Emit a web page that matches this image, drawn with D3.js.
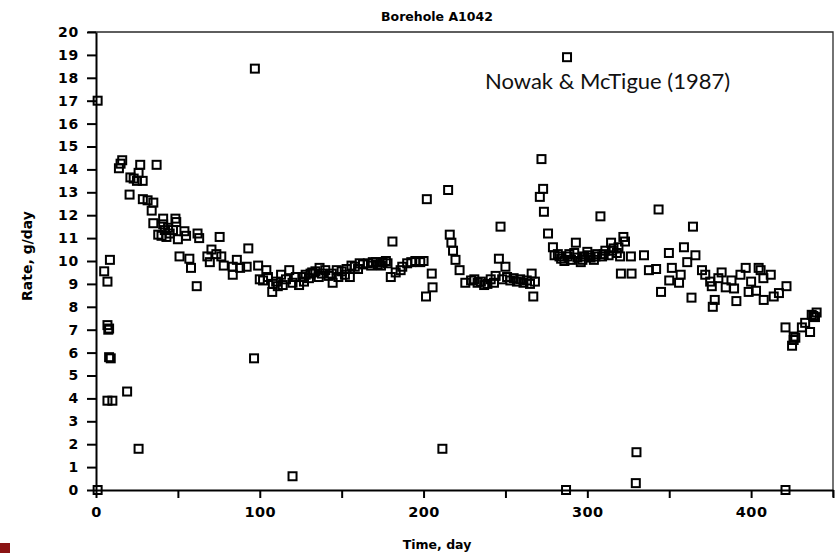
<!DOCTYPE html>
<html>
  <head>
    <meta charset="utf-8">
    <title>Borehole A1042</title>
    <script src="https://d3js.org/d3.v7.min.js"></script>
    <style>
      body { margin: 0; background: #fff; }
      .tick text { font-family: 'DejaVu Sans', sans-serif; font-weight: bold; }
    </style>
  </head>
  <body>
    <script>

// Data (Time, day / Rate, g/day)
var days = [1, 1, 5, 7, 8.5, 7, 7.5, 8, 8, 9, 7, 10, 19, 26,
  14, 15, 16, 20.5, 21, 23, 25, 26, 27, 28.5, 37, 28.6, 31.5, 35, 34, 35,
  41, 48.5, 41, 42, 40, 43, 47, 49, 50, 54, 55, 62, 63, 75.5,
  51, 57, 58, 68, 69.5, 70.5, 73.5, 76.5, 78, 83.5, 86, 93, 92, 88, 99, 61.5, 83.5,
  100, 104, 107.6, 111, 113, 118, 120, 124, 126, 132, 136.5, 144.5, 147, 155, 156,
  161, 169, 180, 183, 187, 192.5, 181, 97, 96.5, 120,
  102, 105, 110, 116, 122, 128, 130, 134, 138, 140, 142, 150, 152, 158, 163, 166,
  172, 175, 178, 190, 195, 198, 200, 186,
  108, 114, 127, 131, 136, 144, 148, 153, 160, 168, 171, 174, 177, 45, 44, 38,
  202, 205, 205.5, 201.5, 215, 216, 217, 218, 219.5, 222, 225.5, 211.5,
  229, 231, 233, 235, 237, 239, 241, 243, 244, 246, 247, 248, 250, 251, 253, 255,
  257, 259, 261, 263, 265, 266, 267, 268,
  272, 273, 271, 273.5, 276, 279, 280, 287.6, 287,
  282, 284, 286, 288, 290, 292, 293, 294, 296, 298, 300, 302, 304, 306, 308, 309,
  311, 313, 314.5, 316, 318, 320, 320.5, 322, 323, 326.6, 327, 330, 329.6, 334.6,
  283, 289, 297, 301, 305, 310, 315, 319,
  337.6, 342, 343.5, 345, 349.8, 350, 351.6, 356, 357, 359, 361, 363.6, 364.5, 366,
  370, 372, 375, 376, 376.6, 377.8, 380, 382, 384.5, 388, 389.6, 391, 393.5, 396.7,
  398.5, 400, 403, 404.6, 405.8, 407.5, 407.7, 412, 413.8, 417, 421.6, 421,
  421, 426, 425, 426, 427, 431, 433, 436, 437, 440, 439, 438];

var rates = [17.0, 0, 9.55, 9.1, 10.05, 7.2, 7.0, 7.05, 5.8, 5.75, 3.9, 3.9, 4.3, 1.8,
  14.05, 14.25, 14.4, 12.9, 13.65, 13.6, 13.5, 13.85, 14.2, 13.5, 14.2, 12.7, 12.65, 12.55, 12.2, 11.65,
  11.85, 11.85, 11.6, 11.35, 11.1, 11.05, 11.35, 11.7, 10.95, 11.3, 11.1, 11.2, 11.0, 11.05,
  10.2, 10.1, 9.7, 10.2, 9.95, 10.5, 10.3, 10.2, 9.8, 9.75, 10.05, 10.55, 9.75, 9.7, 9.8, 8.9, 9.4,
  9.2, 9.6, 8.65, 8.9, 9.4, 9.6, 9.05, 8.95, 9.3, 9.5, 9.7, 9.05, 9.6, 9.3, 9.8,
  9.9, 9.95, 9.3, 9.5, 9.75, 9.95, 10.85, 18.4, 5.75, 0.6,
  9.15, 9.3, 9.1, 9.2, 9.3, 9.4, 9.25, 9.55, 9.45, 9.6, 9.35, 9.55, 9.4, 9.75, 9.85, 9.9,
  9.85, 9.95, 9.9, 9.9, 10.0, 9.95, 10.0, 9.6,
  9.0, 8.95, 9.1, 9.45, 9.3, 9.45, 9.3, 9.65, 9.65, 9.8, 9.95, 9.8, 10.0, 11.2, 11.45, 11.15,
  12.7, 9.45, 8.85, 8.45, 13.1, 11.15, 10.8, 10.45, 10.05, 9.6, 9.05, 1.8,
  9.15, 9.2, 9.05, 9.1, 8.95, 9.0, 9.2, 9.05, 9.35, 10.1, 11.5, 9.2, 9.75, 9.3, 9.15, 9.25,
  9.1, 9.2, 9.05, 9.15, 9.0, 9.45, 8.45, 9.1,
  14.45, 13.15, 12.8, 12.15, 11.2, 10.6, 10.25, 18.9, 0,
  10.3, 10.1, 10.0, 10.2, 10.05, 10.35, 10.8, 10.15, 9.95, 10.2, 10.4, 10.15, 10.05, 10.3, 11.95, 10.2,
  10.45, 10.25, 10.8, 10.55, 10.35, 10.2, 9.45, 11.05, 10.85, 10.2, 9.45, 1.65, 0.3, 10.25,
  10.2, 10.3, 10.05, 10.25, 10.2, 10.3, 10.45, 10.6,
  9.6, 9.65, 12.25, 8.65, 10.35, 9.15, 9.7, 9.05, 9.4, 10.6, 9.95, 8.4, 11.5, 10.25,
  9.6, 9.4, 9.1, 8.9, 8.0, 8.3, 9.25, 9.5, 8.85, 9.15, 8.8, 8.25, 9.4, 9.7,
  8.65, 9.1, 8.7, 9.7, 9.6, 9.25, 8.3, 9.4, 8.45, 8.6, 8.9, 0,
  7.1, 6.7, 6.3, 6.55, 6.65, 7.1, 7.3, 6.9, 7.65, 7.75, 7.55, 7.6];

var xTicks = [0, 50, 100, 150, 200, 250, 300, 350, 400, 450];
var xLabels = [0, 100, 200, 300, 400];
var yTicks = d3.range(0, 21);

var W = 836, H = 553;
// plot box in pixels (don't call these top/left, window.top is read-only)
var pLeft = 96, pRight = 833, pTop = 32, pBottom = 490;

var svg = d3.select("body").append("svg").attr("width", W).attr("height", H);

var x = d3.scaleLinear().domain([0, 450]).range([pLeft, pRight]);
var y = d3.scaleLinear().domain([0, 20]).range([pBottom, pTop]);

// frame (top + right), thin like the scan
svg.append("path")
  .attr("d", "M" + (pLeft - 8) + "," + pTop + "H" + pRight + "V" + (pBottom + 7))
  .attr("fill", "none").attr("stroke", "#2a2a2a").attr("stroke-width", 1.3);

// y axis
var yAxis = svg.append("g")
  .attr("transform", "translate(" + pLeft + ",0)")
  .call(d3.axisLeft(y).tickValues(yTicks).tickSize(9).tickPadding(8).tickSizeOuter(0));
yAxis.selectAll("path, line").attr("stroke", "#000").attr("stroke-width", 2);
yAxis.selectAll("text").attr("font-size", 14).attr("fill", "#000").attr("letter-spacing", 0.8);

// x axis
var xAxis = svg.append("g")
  .attr("transform", "translate(0," + pBottom + ")")
  .call(d3.axisBottom(x).tickValues(xTicks).tickSize(8).tickPadding(9).tickSizeOuter(0)
    .tickFormat(function(d){ return xLabels.indexOf(d) >= 0 ? d : ""; }));
xAxis.selectAll("path, line").attr("stroke", "#000").attr("stroke-width", 2);
xAxis.selectAll("text").attr("font-size", 14.5).attr("fill", "#000").attr("letter-spacing", 0.5);

// points: open squares
var sq = 8;
svg.append("g").selectAll("rect").data(days).enter().append("rect")
  .attr("x", function(d){ return x(d) - sq/2; })
  .attr("y", function(d,i){ return y(rates[i]) - sq/2; })
  .attr("width", sq).attr("height", sq)
  .attr("fill", "none").attr("stroke", "#000").attr("stroke-width", 2);

// titles
svg.append("text").attr("x", 437).attr("y", 21).attr("text-anchor", "middle")
  .attr("font-family", "'DejaVu Sans', sans-serif").attr("font-weight", "bold").attr("font-size", 12.5)
  .text("Borehole A1042");

svg.append("text").attr("x", 437).attr("y", 549).attr("text-anchor", "middle")
  .attr("font-family", "'DejaVu Sans', sans-serif").attr("font-weight", "bold").attr("font-size", 12.5)
  .text("Time, day");

svg.append("text").attr("transform", "translate(32,256) rotate(-90)").attr("text-anchor", "middle")
  .attr("font-family", "'DejaVu Sans', sans-serif").attr("font-weight", "bold").attr("font-size", 14)
  .text("Rate, g/day");

svg.append("text").attr("x", 485).attr("y", 89)
  .attr("font-family", "Lato, 'Open Sans', sans-serif").attr("font-size", 22).attr("fill", "#111")
  .text("Nowak & McTigue (1987)");

// small red mark bottom-left
svg.append("rect").attr("x", 0).attr("y", 543).attr("width", 10).attr("height", 10).attr("fill", "#8b1414");

    </script>
  </body>
</html>
